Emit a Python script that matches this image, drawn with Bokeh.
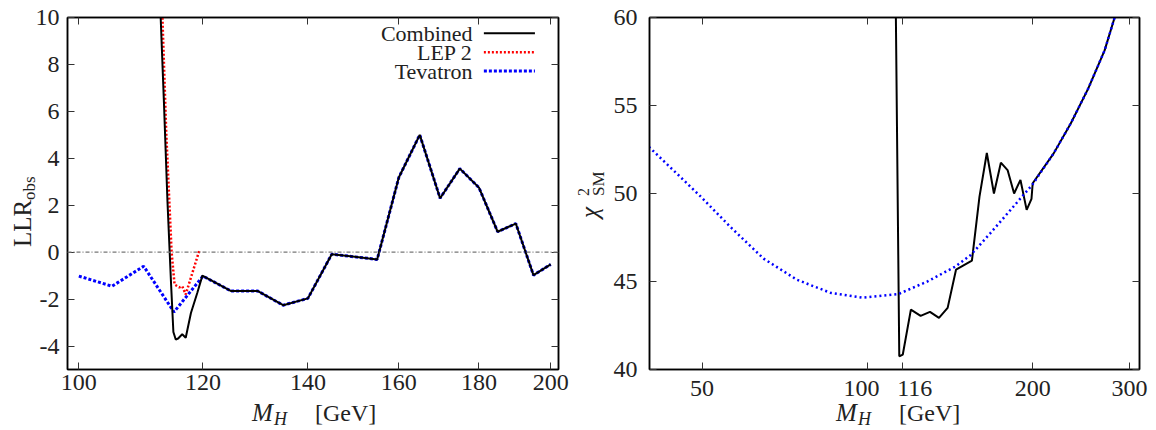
import math
from bokeh.plotting import figure
from bokeh.layouts import row, column
from bokeh.models import (FixedTicker, LogAxis, LinearAxis, Range1d, Span, Div,
                          BasicTickFormatter, CustomJSTickFormatter)
from bokeh.core.properties import value
from bokeh.embed import file_html
from bokeh.resources import INLINE

# ---------------- data: left panel (LLR_obs vs M_H) ----------------
comb_m = [112.7, 113.3, 113.9, 114.5, 114.9, 115.3, 115.7, 116.4, 117.0, 117.9,
          119.0, 119.9, 125, 130, 135, 140, 145, 150, 155, 160, 165, 170, 175,
          180, 185, 190, 195, 200]
comb_llr = [10.5, 6.5, 2.2, -1.3, -3.4, -3.72, -3.68, -3.5, -3.65, -2.59,
            -1.74, -1.0, -1.65, -1.65, -2.26, -1.97, -0.085, -0.2, -0.31, 3.18,
            5.0, 2.3, 3.56, 2.75, 0.87, 1.22, -0.98, -0.52]

lep_m = [113.0, 113.7, 114.6, 115.1, 115.9, 116.4, 117.0, 119.4]
lep_llr = [10.5, 5.1, 0.0, -1.38, -1.5, -1.45, -1.8, 0.1]

tev_m = [100, 105, 110, 115, 120, 125, 130, 135, 140, 145, 150, 155, 160,
         165, 170, 175, 180, 185, 190, 195, 200]
tev_llr = [-1.02, -1.45, -0.6, -2.55, -1.02, -1.65, -1.65, -2.26, -1.97, -0.085,
           -0.2, -0.31, 3.18, 5.0, 2.3, 3.56, 2.75, 0.87, 1.22, -0.98, -0.52]

left_xticks = [100, 120, 140, 160, 180, 200]
left_yticks = [-4, -2, 0, 2, 4, 6, 8, 10]
left_ytick_labels = ["-4", "-2", "0", "2", "4", "6", "8", "10"]

# ---------------- data: right panel (chi2_SM vs M_H) ----------------
fit_m = [40, 45.6, 49.8, 56.3, 64.7, 74.4, 85.8, 98.0, 114.0, 128.6, 144.6,
         154.2, 167.5, 182.3, 199.7, 218.4, 234.6, 252.4, 270.4, 282, 300]
fit_chi2 = [52.65, 50.95, 49.8, 48.1, 46.3, 45.1, 44.35, 44.08, 44.29, 45.0,
            45.85, 46.5, 47.75, 49.07, 50.5, 52.28, 53.98, 55.96, 58.13, 60.0, 62.0]

comb_chi_m = [112.6, 114.3, 116.0, 120, 125, 130, 135, 140, 145, 155, 160, 165,
              170, 175, 180, 185, 190, 195, 199, 200, 218.4, 234.6, 252.4,
              270.4, 282, 300]
comb_chi2 = [61.0, 40.75, 40.85, 43.4, 43.05, 43.27, 42.93, 43.5, 45.67, 46.18,
             49.82, 52.3, 50.0, 51.75, 51.33, 50.0, 50.77, 49.07, 49.7, 50.58,
             52.28, 53.98, 55.96, 58.13, 60.0, 62.0]

right_xticks = [50, 100, 116, 200, 300]
# the reference nudges "100" left and "116" right so they do not touch
right_xtick_labels = ["50", "100\u2002", "\u2003116", "200", "300"]
right_yticks = [40, 45, 50, 55, 60]

legend_names = ["Combined", "LEP 2", "Tevatron"]

FONT = "Liberation Serif"
TICK_SIZE = "24px"
TXT = "#222222"
FIG_H = 403   # figures; the x-axis titles sit in a 27 px strip underneath


def style(p, xticks, yticks, ylabels=None, xlabels=None):
    p.xgrid.visible = False
    p.ygrid.visible = False
    p.outline_line_color = "black"
    p.outline_line_width = 1.5
    p.background_fill_color = "white"
    p.border_fill_color = "white"
    bottom = p.below[0]
    left = p.left[0]
    bottom.ticker = FixedTicker(ticks=xticks)
    bottom.formatter = BasicTickFormatter()
    if xlabels:
        bottom.major_label_overrides = {float(t): s for t, s in zip(xticks, xlabels)}
    left.ticker = FixedTicker(ticks=yticks)
    if ylabels:
        left.major_label_overrides = {float(t): s for t, s in zip(yticks, ylabels)}
    blank = CustomJSTickFormatter(code="return ''")
    top = LogAxis(ticker=FixedTicker(ticks=xticks), formatter=blank)
    right = LinearAxis(ticker=FixedTicker(ticks=yticks), formatter=blank)
    p.add_layout(top, "above")
    p.add_layout(right, "right")
    for ax in (bottom, left, top, right):
        ax.major_tick_in = 7
        ax.major_tick_out = 0
        ax.minor_tick_in = 0
        ax.minor_tick_out = 0
        ax.axis_line_color = "black"
        ax.axis_line_width = 1.5
        ax.major_tick_line_color = "#333333"
        ax.major_tick_line_width = 1
        ax.major_label_text_font = FONT
        ax.major_label_text_color = TXT
        ax.major_label_text_font_size = TICK_SIZE
    top.major_label_standoff = 0
    right.major_label_standoff = 0
    bottom.major_label_standoff = 5
    return left


def span(text, x, base, fs, italic=False):
    """absolutely positioned text, placed by its baseline"""
    top = base - 0.8375 * fs
    st = "italic" if italic else "normal"
    return (f'<span style="position:absolute;left:{x}px;top:{top:.1f}px;'
            f'font-size:{fs}px;line-height:{fs}px;font-style:{st};'
            f'white-space:nowrap;">{text}</span>')


def box(w, h, inner):
    return Div(text=(f'<div style="position:relative;width:{w}px;height:{h}px;'
                     f'font-family:\'{FONT}\';color:{TXT};overflow:visible;">'
                     f'{inner}</div>'),
               width=w, height=h, margin=0, styles={"overflow": "visible"})


def rotated(ox, oy, inner):
    return (f'<div style="position:absolute;left:{ox}px;top:{oy}px;width:0;height:0;'
            f'transform:rotate(-90deg);transform-origin:0 0;">{inner}</div>')


def xtitle(w, x0):
    inner = (span("M", x0, 18, 25, True) + span("H", x0 + 22, 22, 18, True)
             + span("[GeV]", x0 + 63, 18, 24))
    return box(w, 430 - FIG_H, inner)


# ---------------- left figure ----------------
lx0, lx1, ly0, ly1 = 98.35, 202.3, -5, 10
YL1_W = 32
p1 = figure(width=578 - YL1_W, height=FIG_H, x_axis_type="log",
            x_range=Range1d(lx0, lx1), y_range=Range1d(ly0, ly1),
            output_backend="svg", toolbar_location=None, margin=0,
            min_border_left=67 - YL1_W, min_border_right=20, min_border_top=17,
            min_border_bottom=FIG_H - 370)
lax = style(p1, left_xticks, left_yticks, left_ytick_labels)
lax.major_label_standoff = 8
p1.border_fill_alpha = 0

p1.add_layout(Span(location=0, dimension="width", line_color="#777777",
                   line_dash="4 2 1 2", line_width=1.3))
p1.line(tev_m, tev_llr, line_color="blue", line_width=3, line_dash="3 2")
p1.line(lep_m, lep_llr, line_color="red", line_width=2.5, line_dash="2 2")
p1.line(comb_m, comb_llr, line_color="black", line_width=2)


def fx(f):
    return 10 ** (math.log10(lx0) + f * (math.log10(lx1) - math.log10(lx0)))


def fy(f):
    return ly0 + f * (ly1 - ly0)


leg_rows = [0.9555, 0.9016, 0.8477]
leg_styles = [dict(line_color="black", line_width=2),
              dict(line_color="red", line_width=2.5, line_dash="2 2"),
              dict(line_color="blue", line_width=3, line_dash="3 2")]
p1.text(x=[fx(0.825)] * 3, y=[fy(r) for r in leg_rows], text=legend_names,
        text_align="right", text_baseline="middle", text_font=value(FONT),
        text_font_size="22px", text_color=TXT)
for r, st in zip(leg_rows, leg_styles):
    p1.line([fx(0.848), fx(0.952)], [fy(r), fy(r)], **st)

ylab1 = box(YL1_W, FIG_H, rotated(0, 247, span("LLR", 0, 31, 25)
                                  + span("obs", 47, 35.5, 17)))

# ---------------- right figure ----------------
YL2_W = 32
p2 = figure(width=578 - YL2_W, height=FIG_H, x_axis_type="log",
            x_range=Range1d(40.1, 313), y_range=Range1d(40, 60),
            output_backend="svg", toolbar_location=None, margin=0,
            min_border_left=649 - 578 - YL2_W, min_border_right=17,
            min_border_top=17, min_border_bottom=FIG_H - 370)
rax = style(p2, right_xticks, right_yticks, xlabels=right_xtick_labels)
rax.major_label_standoff = 12
p2.line(comb_chi_m, comb_chi2, line_color="black", line_width=2)
p2.line(fit_m, fit_chi2, line_color="blue", line_width=2.5, line_dash="2 3")

ylab2 = box(YL2_W, FIG_H, rotated(0, 218, span("χ", 0, 20, 25, True)
                                  + span("2", 22, 11, 16)
                                  + span("SM", 22, 26, 17)))

layout = column(row(ylab1, p1, ylab2, p2, spacing=0, margin=0),
                row(xtitle(578, 252), xtitle(578, 258), spacing=0, margin=0),
                spacing=0, margin=0)
open("out.html", "w").write(file_html(layout, INLINE))
